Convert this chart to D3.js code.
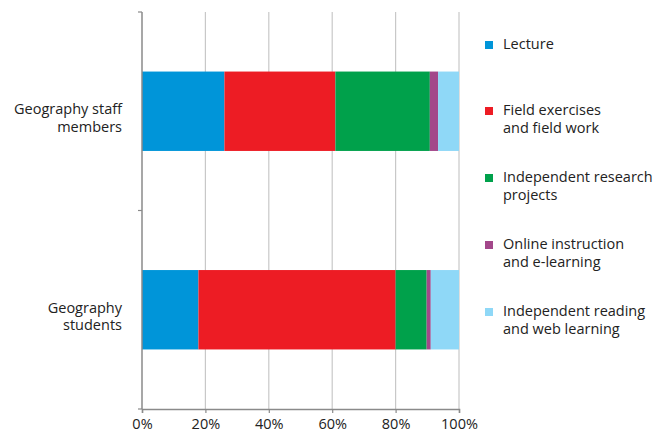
<!DOCTYPE html>
<html>
<head>
<meta charset="utf-8">
<script src="https://cdn.jsdelivr.net/npm/d3@7"></script>
<style>
  body { margin: 0; background: #fff; }
  text { font-family: "Open Sans", "Lato", sans-serif; fill: #222; }
</style>
</head>
<body>
<svg id="chart" width="657" height="434"></svg>
<script>
const groups = [["Geography staff", "members"], ["Geography", "students"]];
const categories = ["Lecture", "Field exercises and field work", "Independent research projects",
  "Online instruction and e-learning", "Independent reading and web learning"];
const legendLines = [["Lecture"], ["Field exercises", "and field work"], ["Independent research", "projects"],
  ["Online instruction", "and e-learning"], ["Independent reading", "and web learning"]];
const staffValues = [26, 35, 29.8, 2.6, 6.6];
const studentValues = [17.8, 62.2, 9.8, 1.3, 8.9];
const colors = ["#0095d9", "#ed1c24", "#00a14b", "#a3478a", "#8fd8f7"];
const xTicks = [0, 20, 40, 60, 80, 100];

const svg = d3.select("#chart");
const m = { left: 142, right: 198, top: 12, bottom: 25 };
const W = 657, H = 434;
const fs = "14.5px";
const lh = 17.5;

const x = d3.scaleLinear().domain([0, 100]).range([m.left, W - m.right]);
const y = d3.scaleBand().domain([0, 1]).range([m.top, H - m.bottom]).paddingInner(0.6).paddingOuter(0.3);

// gridlines
svg.append("g").selectAll("line").data(xTicks.slice(1)).join("line")
  .attr("x1", d => x(d)).attr("x2", d => x(d))
  .attr("y1", m.top).attr("y2", H - m.bottom)
  .attr("stroke", "#c8c8c8").attr("stroke-width", 1.2);

// stacked bars
const rows = [staffValues, studentValues];
rows.forEach((vals, i) => {
  let acc = 0;
  const segs = vals.map((v, j) => { const s = { x0: acc, x1: acc + v, c: colors[j] }; acc += v; return s; });
  svg.append("g").selectAll("rect").data(segs).join("rect")
    .attr("x", d => x(d.x0)).attr("width", d => x(d.x1) - x(d.x0))
    .attr("y", y(i)).attr("height", y.bandwidth())
    .attr("fill", d => d.c);
});

// y axis line and ticks at band boundaries
const bounds = [m.top, (y(0) + y.bandwidth() + y(1)) / 2, H - m.bottom];
svg.append("line").attr("x1", m.left).attr("x2", m.left).attr("y1", m.top).attr("y2", H - m.bottom)
  .attr("stroke", "#8a8a8a").attr("stroke-width", 1.5);
svg.append("g").selectAll("line").data(bounds).join("line")
  .attr("x1", m.left - 4).attr("x2", m.left).attr("y1", d => d).attr("y2", d => d)
  .attr("stroke", "#8a8a8a").attr("stroke-width", 1.2);

// x axis
const xAxis = svg.append("g").attr("transform", `translate(0,${H - m.bottom})`)
  .call(d3.axisBottom(x).tickValues(xTicks).tickFormat(d => d + "%").tickSize(4).tickPadding(6));
xAxis.select(".domain").attr("stroke", "#8a8a8a").attr("stroke-width", 1.5);
xAxis.selectAll(".tick line").attr("stroke", "#8a8a8a").attr("stroke-width", 1.2);
xAxis.selectAll("text").style("font-size", fs).attr("fill", "#222")
  .style("font-family", "'Open Sans', Lato, sans-serif");

// category labels
groups.forEach((lines, i) => {
  const cy = y(i) + y.bandwidth() / 2;
  const t = svg.append("text").attr("text-anchor", "end").style("font-size", fs);
  lines.forEach((ln, k) => {
    t.append("tspan").attr("x", 122).attr("y", cy + 3 + k * lh).text(ln);
  });
});

// legend
const legendY = [49, 115, 182, 249, 316];
const lg = svg.append("g");
legendLines.forEach((lines, i) => {
  lg.append("rect").attr("x", 485).attr("y", legendY[i] - 8).attr("width", 8).attr("height", 8)
    .attr("fill", colors[i]);
  const t = lg.append("text").style("font-size", fs);
  lines.forEach((ln, k) => {
    t.append("tspan").attr("x", 503).attr("y", legendY[i] + k * lh).text(ln);
  });
});
</script>
</body>
</html>
